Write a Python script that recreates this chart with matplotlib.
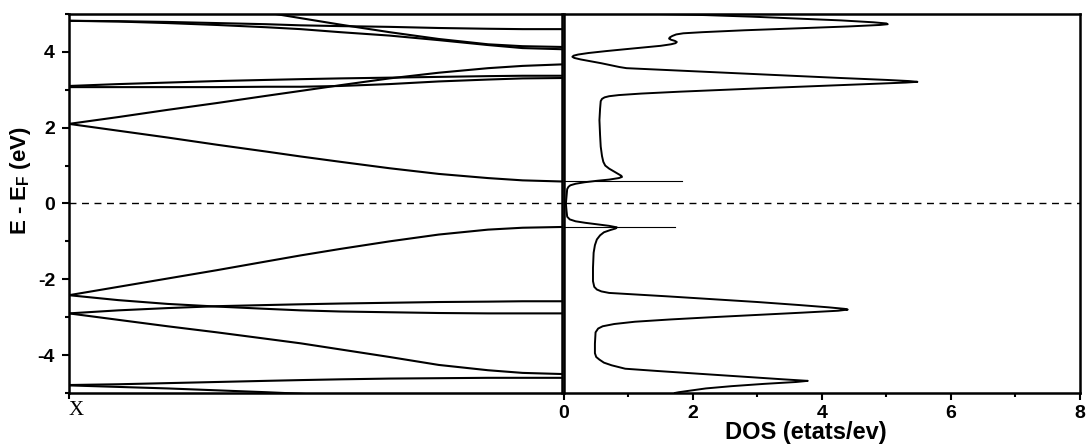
# band structure (X -> Gamma) next to the density of states
import matplotlib
matplotlib.use("Agg")
import matplotlib.pyplot as plt
from matplotlib.ticker import MultipleLocator

plt.rcParams['font.family'] = 'Liberation Sans'
plt.rcParams['font.weight'] = 'bold'
plt.rcParams['axes.unicode_minus'] = False
plt.rcParams['mathtext.fontset'] = 'custom'
plt.rcParams['mathtext.rm'] = 'Liberation Sans:bold'
plt.rcParams['mathtext.bf'] = 'Liberation Sans:bold'

# k path, 0 = X point, 1 = end of the path
k_pts = [0, 0.1, 0.2, 0.3, 0.4, 0.47, 0.55, 0.65, 0.75, 0.85, 0.92, 1.0]

# bands (eV)
band_a = [4.82, 4.81, 4.79, 4.76, 4.73, 4.70, 4.68, 4.66, 4.63, 4.61, 4.60, 4.60]
band_b = [4.82, 4.80, 4.76, 4.71, 4.65, 4.60, 4.52, 4.43, 4.31, 4.18, 4.10, 4.07]
band_c = [5.75, 5.58, 5.40, 5.22, 5.04, 4.89, 4.72, 4.52, 4.34, 4.20, 4.15, 4.13]
band_d = [3.10, 3.15, 3.19, 3.23, 3.26, 3.28, 3.30, 3.32, 3.34, 3.36, 3.37, 3.37]
band_e = [3.07, 3.07, 3.07, 3.07, 3.08, 3.08, 3.10, 3.15, 3.22, 3.27, 3.30, 3.31]
band_f = [2.10, 2.28, 2.47, 2.65, 2.84, 2.97, 3.12, 3.30, 3.45, 3.57, 3.63, 3.67]
band_g = [2.10, 1.92, 1.74, 1.55, 1.37, 1.24, 1.10, 0.93, 0.78, 0.67, 0.61, 0.58]
band_h = [-2.42, -2.20, -1.98, -1.76, -1.53, -1.37, -1.20, -1.00, -0.82, -0.69, -0.64, -0.62]
band_i = [-2.42, -2.55, -2.65, -2.72, -2.78, -2.82, -2.85, -2.87, -2.89, -2.90, -2.90, -2.90]
band_j = [-2.90, -2.82, -2.76, -2.71, -2.68, -2.66, -2.64, -2.62, -2.60, -2.59, -2.58, -2.58]
band_k = [-2.90, -3.07, -3.24, -3.40, -3.57, -3.69, -3.85, -4.05, -4.26, -4.40, -4.47, -4.50]
band_l = [-4.79, -4.77, -4.74, -4.71, -4.68, -4.66, -4.64, -4.62, -4.61, -4.60, -4.60, -4.60]
band_m = [-4.80, -4.84, -4.88, -4.93, -4.98, -5.02, -5.08, -5.15, -5.22, -5.28, -5.31, -5.32]
bands = [band_a, band_b, band_c, band_d, band_e, band_f, band_g,
         band_h, band_i, band_j, band_k, band_l, band_m]

# DOS curve (energy in eV, states/eV)
dos_e = [5.00, 4.97, 4.93, 4.88, 4.83, 4.78, 4.75, 4.73, 4.71, 4.67, 4.62, 4.57,
         4.52, 4.49, 4.46, 4.42, 4.38, 4.35, 4.32, 4.29, 4.26, 4.23, 4.20, 4.16,
         4.12, 4.07, 4.02, 3.97, 3.93, 3.90, 3.87, 3.84, 3.80, 3.75, 3.70, 3.64,
         3.60, 3.57, 3.52, 3.45, 3.38, 3.31, 3.26, 3.23, 3.21, 3.19, 3.15, 3.10,
         3.05, 3.00, 2.95, 2.90, 2.86, 2.83, 2.80, 2.76, 2.70, 2.50, 2.20, 1.80,
         1.50, 1.25, 1.10, 1.00, 0.92, 0.85, 0.78, 0.73, 0.70, 0.67, 0.63, 0.60,
         0.56, 0.52, 0.48, 0.44, 0.38, 0.20, 0.00, -0.20, -0.35, -0.42, -0.47,
         -0.51, -0.55, -0.59, -0.63, -0.66, -0.70, -0.76, -0.84, -0.95, -1.10,
         -1.30, -1.70, -2.05, -2.20, -2.27, -2.32, -2.36, -2.40, -2.45, -2.52,
         -2.60, -2.68, -2.74, -2.78, -2.80, -2.83, -2.88, -2.94, -3.00, -3.06,
         -3.12, -3.18, -3.24, -3.30, -3.40, -3.70, -3.95, -4.05, -4.12, -4.20,
         -4.27, -4.32, -4.36, -4.42, -4.50, -4.58, -4.64, -4.68, -4.71, -4.76,
         -4.82, -4.88, -4.94, -4.98, -5.00]
dos_v = [1.45, 2.2, 2.9, 3.6, 4.3, 4.8, 5.0, 5.02, 4.9, 4.4, 3.6, 2.8,
         2.15, 1.85, 1.74, 1.68, 1.64, 1.63, 1.66, 1.72, 1.75, 1.73, 1.66, 1.5,
         1.25, 0.95, 0.65, 0.38, 0.22, 0.15, 0.13, 0.16, 0.26, 0.42, 0.58, 0.75,
         0.86, 0.97, 1.6, 2.5, 3.4, 4.3, 5.0, 5.35, 5.48, 5.3, 4.7, 3.95,
         3.2, 2.5, 1.8, 1.2, 0.85, 0.7, 0.63, 0.59, 0.57, 0.56, 0.55, 0.56,
         0.57, 0.59, 0.61, 0.64, 0.7, 0.77, 0.84, 0.89, 0.9, 0.85, 0.7, 0.52,
         0.32, 0.18, 0.1, 0.07, 0.05, 0.04, 0.03, 0.04, 0.05, 0.09, 0.18,
         0.33, 0.52, 0.7, 0.82, 0.8, 0.72, 0.62, 0.56, 0.51, 0.48,
         0.46, 0.45, 0.45, 0.47, 0.51, 0.58, 0.7, 1.1, 1.6, 2.25,
         3.0, 3.65, 4.1, 4.35, 4.4, 4.25, 3.7, 3.0, 2.3, 1.65,
         1.1, 0.78, 0.6, 0.53, 0.49, 0.48, 0.48, 0.5, 0.55, 0.62,
         0.74, 0.86, 0.95, 1.45, 2.15, 2.85, 3.4, 3.78, 3.6, 3.1,
         2.6, 2.2, 1.95, 1.78, 1.72]

# band edges marked in the DOS panel
cbm, cbm_len = 0.58, 1.83
vbm, vbm_len = -0.62, 1.72

fig = plt.figure(figsize=(10.86, 4.45), dpi=100)
ax1 = fig.add_axes([0.0635, 0.1169, 0.454, 0.8517])
ax2 = fig.add_axes([0.5193, 0.1169, 0.4751, 0.8517])

# left: bands
for b in bands:
    ax1.plot(k_pts, b, color='black', lw=1.5)
ax1.axhline(0, color='black', lw=1.0, ls=(0, (5, 4)))
ax1.set_xlim(0, 1)
ax1.set_ylim(-5, 5)
ax1.set_xticks([0])
ax1.set_xticklabels(['X'], fontfamily='Liberation Serif', fontweight='normal',
                    fontsize=15, ha='left')
ax1.yaxis.set_major_locator(MultipleLocator(2))
ax1.yaxis.set_minor_locator(MultipleLocator(1))
ax1.tick_params(axis='y', which='major', length=5, width=1.5, labelsize=14, pad=5)
ax1.tick_params(axis='y', which='minor', length=3, width=1.5)
ax1.tick_params(axis='x', length=4, width=1.5, pad=2)
for lab in ax1.get_yticklabels():
    lab.set_fontweight('bold')
ax1.set_ylabel(r'E - E$_\mathbf{F}$ (eV)', fontsize=16, fontweight='bold')
ax1.yaxis.set_label_coords(-0.072, 0.56)

# right: DOS
ax2.plot(dos_v, dos_e, color='black', lw=1.4)
ax2.axhline(0, color='black', lw=1.0, ls=(0, (5, 4)))
ax2.plot([0, cbm_len], [cbm, cbm], color='black', lw=0.8)
ax2.plot([0, vbm_len], [vbm, vbm], color='black', lw=0.8)
ax2.set_xlim(0, 8)
ax2.set_ylim(-5, 5)
ax2.set_yticks([])
ax2.xaxis.set_major_locator(MultipleLocator(2))
ax2.xaxis.set_minor_locator(MultipleLocator(1))
ax2.tick_params(axis='x', which='major', length=5, width=1.5, labelsize=14, pad=4)
ax2.tick_params(axis='x', which='minor', length=3, width=1.5)
for lab in ax2.get_xticklabels():
    lab.set_fontweight('bold')
ax2.set_xlabel('DOS (etats/ev)', fontsize=17, fontweight='bold')
ax2.xaxis.set_label_coords(0.468, -0.075)

for ax in (ax1, ax2):
    for s in ax.spines.values():
        s.set_linewidth(1.8)

plt.savefig('out.png', dpi=100)
